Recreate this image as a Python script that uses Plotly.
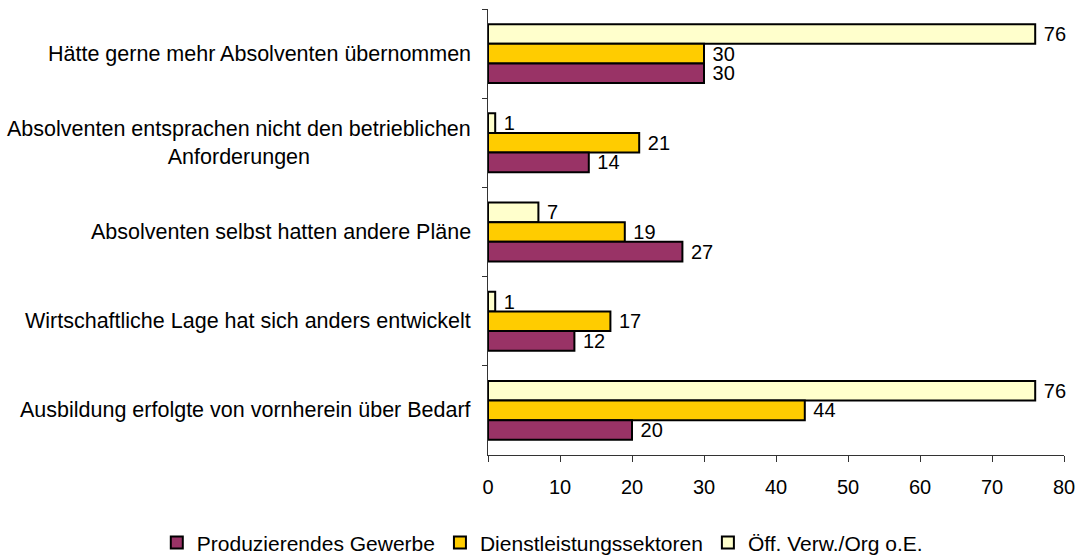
import plotly.graph_objects as go

categories = [
    "Hätte gerne mehr Absolventen übernommen",
    "Absolventen entsprachen nicht den betrieblichen<br>Anforderungen",
    "Absolventen selbst hatten andere Pläne",
    "Wirtschaftliche Lage hat sich anders entwickelt",
    "Ausbildung erfolgte von vornherein über Bedarf",
]
series_names = ["Produzierendes Gewerbe", "Dienstleistungssektoren", "Öff. Verw./Org o.E."]
produzierendes = [30, 14, 27, 12, 20]
dienstleistung = [30, 21, 19, 17, 44]
oeffentlich = [76, 1, 7, 1, 76]
x_ticks = [0, 10, 20, 30, 40, 50, 60, 70, 80]

colors = {"Produzierendes Gewerbe": "#993366",
          "Dienstleistungssektoren": "#FFCC00",
          "Öff. Verw./Org o.E.": "#FFFFCC"}

FONT = "Liberation Sans, Arial, sans-serif"

fig = go.Figure()
# order: top bar in each group first (axis is reversed)
for name, vals in [(series_names[2], oeffentlich),
                   (series_names[1], dienstleistung),
                   (series_names[0], produzierendes)]:
    fig.add_trace(go.Bar(
        name=name, y=categories, x=vals, orientation="h",
        marker=dict(color=colors[name], line=dict(color="#000000", width=2)),
        text=[f" {v}" for v in vals], textposition="outside",
        textfont=dict(family=FONT, size=20, color="#000000"),
        constraintext="none", cliponaxis=False,
    ))

for c in categories:
    fig.add_annotation(
        xref="paper", yref="y", x=0, y=c, text=c, showarrow=False,
        xanchor="right", yanchor="middle", align="center", xshift=-15,
        font=dict(family=FONT, size=21.5, color="#000000"),
    )

fig.update_layout(
    width=1079, height=556,
    margin=dict(l=488, r=15, t=9, b=101, autoexpand=False),
    paper_bgcolor="white", plot_bgcolor="white",
    barmode="group", bargap=0.34, bargroupgap=0,
    font=dict(family=FONT, size=20, color="#000000"),
    showlegend=True,
    legend=dict(orientation="h", traceorder="reversed",
                xref="paper", x=-0.575, xanchor="left",
                yref="paper", y=-0.197, yanchor="middle",
                font=dict(family=FONT, size=21, color="#000000"),
                itemwidth=30, bgcolor="rgba(0,0,0,0)"),
)
fig.update_xaxes(range=[0, 80], tickvals=x_ticks, ticktext=[str(t) for t in x_ticks],
                 showgrid=False, zeroline=False, showline=True, linecolor="#333333",
                 linewidth=1, ticks="outside", ticklen=6, tickcolor="#333333",
                 ticklabelstandoff=8,
                 tickfont=dict(family=FONT, size=20, color="#000000"))
fig.update_yaxes(type="category", range=[4.5, -0.5], showticklabels=False,
                 showgrid=False, zeroline=False, showline=True, linecolor="#333333",
                 linewidth=1, ticks="outside", ticklen=5, tickcolor="#333333",
                 tickson="boundaries")

fig.write_html("out.html", config={"displayModeBar": False},
               post_script="document.body.style.margin='0px';document.body.style.overflow='hidden';")
